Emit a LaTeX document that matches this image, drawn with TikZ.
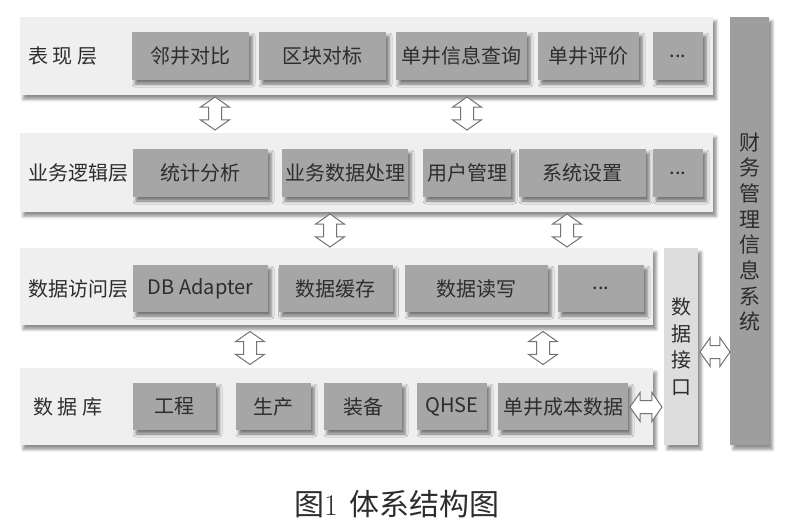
\documentclass[tikz,border=0pt]{standalone}
\usepackage{fontspec}
\newfontfamily\cjk{Noto Sans CJK SC}
\usetikzlibrary{shapes.arrows,shadows.blur}
\definecolor{bandgray}{RGB}{239,239,239}
\definecolor{boxgray}{RGB}{166,166,166}
\definecolor{portgray}{RGB}{221,221,221}
\definecolor{sysgray}{RGB}{158,158,158}
\definecolor{textgray}{RGB}{45,45,45}
\newcommand\moredots{...}
\begin{document}
\begin{tikzpicture}
  [x=1pt,y=-1pt,every node/.style={inner sep=0pt,text=textgray,font=\cjk\fontsize{20}{24}\selectfont}]
  \tikzstyle{band} = [rectangle,anchor=north west,fill=bandgray,blur shadow={shadow xshift=3pt,shadow yshift=-4pt,shadow blur radius=3pt,shadow opacity=45}]
  \tikzstyle{module} = [rectangle,fill=boxgray,minimum height=48,blur shadow={shadow xshift=3pt,shadow yshift=-4pt,shadow blur radius=3pt,shadow opacity=50}]
  \tikzstyle{dblarrow} = [double arrow,draw=gray!90!black,fill=white,line width=1pt,inner ysep=6pt,double arrow head extend=8,double arrow tip angle=110]
  \useasboundingbox (0,0) rectangle (800,528);
  \node[band,minimum width=693,minimum height=78] (present) at (20,17) {};
  \node[band,minimum width=693,minimum height=79] (logic) at (20,133) {};
  \node[band,minimum width=633,minimum height=77] (access) at (20,248) {};
  \node[band,minimum width=633,minimum height=77] (db) at (20,368) {};
  \node[band,fill=portgray,minimum width=34,minimum height=197] (port) at (664,248) {};
  \node[band,fill=sysgray,minimum width=39,minimum height=428] (fms) at (730,17) {};
  \node[anchor=west] (lpresent) at (28,56) {表 现 层};
  \node[anchor=west] (llogic) at (28,173) {业务逻辑层};
  \node[anchor=west] (laccess) at (28,289) {数据访问层};
  \node[anchor=west] (ldb) at (33,407) {数 据 库};
  \foreach \name /\x /\w /\txt in {p1/190.5/117/邻井对比,p2/322.5/127/区块对标,p3/461.5/131/单井信息查询,p4/588.5/101/单井评价,p5/678/50/\moredots}
   \node[module,minimum width=\w] (\name) at (\x,56) {\txt};
  \foreach \name /\x /\w /\txt in {b1/200.5/135/统计分析,b2/345/126/业务数据处理,b3/467/88/用户管理,b4/582.5/127/系统设置,b5/678/50/\moredots}
   \node[module,minimum width=\w] (\name) at (\x,173) {\txt};
  \foreach \name /\x /\w /\txt in {a1/200.5/135/DB Adapter,a2/335.5/114/数据缓存,a3/476.5/143/数据读写,a4/601/86/\moredots}
   \node[module,minimum width=\w,minimum height=47] (\name) at (\x,288.5) {\txt};
  \foreach \name /\x /\w /\txt in {d1/174.5/83/工程,d2/273.5/75/生产,d3/363/78/装备,d4/452/70/QHSE,d5/563/130/单井成本数据}
   \node[module,minimum width=\w,minimum height=47] (\name) at (\x,406.5) {\txt};
  \node[align=center,font=\cjk\fontsize{20}{26.5}\selectfont] (lport) at (port.center) {数\\据\\接\\口};
  \node[align=center,font=\cjk\fontsize{21}{25.7}\selectfont] (lfms) at (749.5,232) {财\\务\\管\\理\\信\\息\\系\\统};
  \foreach \name /\x /\y in {u1/215/113.5,u2/467/113.5,u3/330/230.5,u4/567/230.5,u5/250/348,u6/543/348}
   \node[dblarrow,rotate=90,minimum height=33] (\name) at (\x,\y) {};
  \node[dblarrow,minimum height=32] (h1) at (646,407) {};
  \node[dblarrow,minimum height=30] (h2) at (715,352) {};
  \node (caption) at (397,504) {\fontsize{30}{36}\selectfont 图{\rmfamily 1}\hspace{12pt}体系结构图};
\end{tikzpicture}
\end{document}
